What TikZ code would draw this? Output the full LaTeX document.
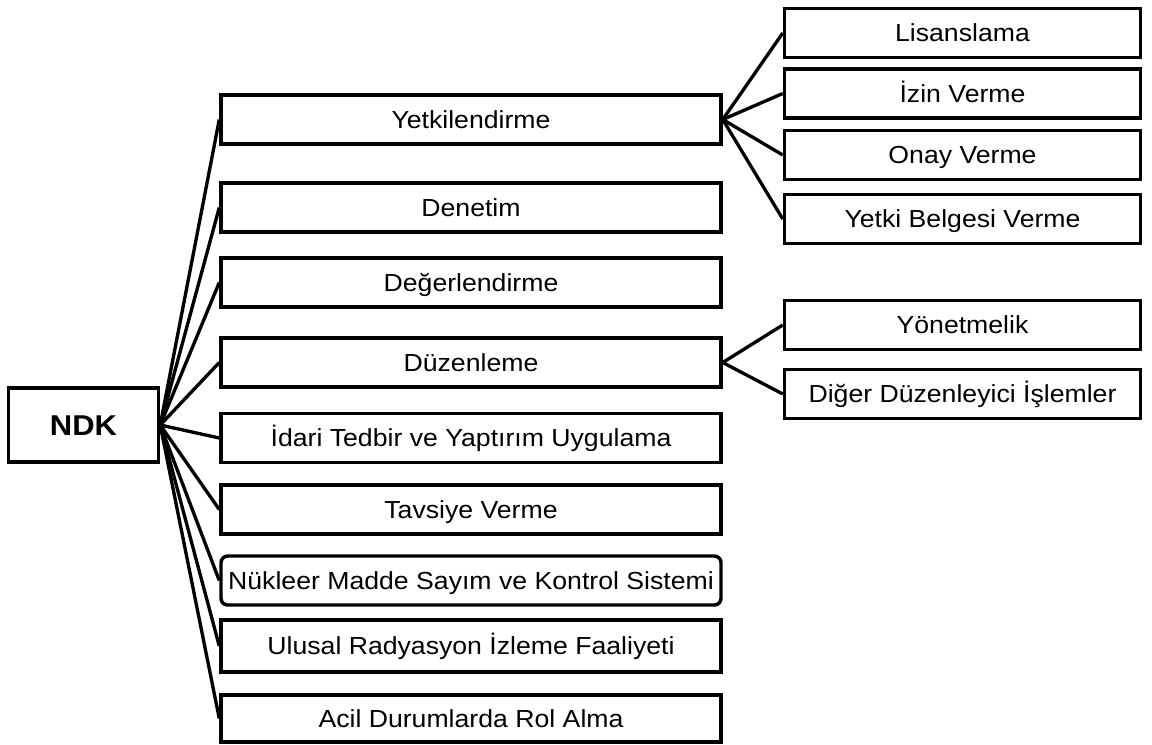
\documentclass[tikz,border=0pt]{standalone}
\usepackage{fontspec}
\setmainfont{Liberation Sans}[FakeStretch=1.08]
\begin{document}
\begin{tikzpicture}[x=0.75pt,y=-0.75pt,
  every node/.style={font=\fontsize{18.5pt}{21pt}\selectfont},
  box/.style={draw=black, line width=2.6pt, fill=white, inner sep=0pt,
    text height=13.2pt, text depth=0pt, align=center},
  midbox/.style={box, minimum width=375pt, minimum height=36.75pt},
  rbox/.style={box, minimum width=267pt, minimum height=37pt},
  link/.style={draw=black, line width=2.5pt},
]
\useasboundingbox (0,0) rectangle (1152,744);
% root
\node[box, minimum width=112.5pt, minimum height=55.5pt, text height=15.4pt,
  font=\fontsize{21.5pt}{24pt}\selectfont\bfseries] (ndk) at (83.5,425) {NDK};
% middle column
\node[midbox] (yet) at (471,119.5) {Yetkilendirme};
\node[midbox] (den) at (471,207.5) {Denetim};
\node[midbox] (deg) at (471,282.5) {Değerlendirme};
\node[midbox] (duz) at (471,362.5) {Düzenleme};
\node[midbox] (ida) at (471,438) {İdari Tedbir ve Yaptırım Uygulama};
\node[midbox] (tav) at (471,509.5) {Tavsiye Verme};
\node[midbox, rounded corners=5pt] (nuk) at (471,580.5) {Nükleer Madde Sayım ve Kontrol Sistemi};
\node[midbox, minimum height=39pt] (ulu) at (471,646) {Ulusal Radyasyon İzleme Faaliyeti};
\node[midbox, minimum height=35.5pt] (aci) at (471,718.5) {Acil Durumlarda Rol Alma};
% right column
\node[rbox] (lis) at (962.5,33) {Lisanslama};
\node[rbox] (izn) at (962.5,93.5) {İzin Verme};
\node[rbox] (ony) at (962.5,155) {Onay Verme};
\node[rbox] (ytb) at (962.5,219) {Yetki Belgesi Verme};
\node[rbox] (yon) at (962.5,325) {Yönetmelik};
\node[rbox] (dig) at (962.5,394) {Diğer Düzenleyici İşlemler};
% connectors
\foreach \t in {yet,den,deg,duz,ida,tav,nuk,ulu,aci}
  \draw[link] (ndk.east) -- (\t.west);
\foreach \t in {lis,izn,ony,ytb}
  \draw[link] (yet.east) -- (\t.west);
\foreach \t in {yon,dig}
  \draw[link] (duz.east) -- (\t.west);
\end{tikzpicture}
\end{document}
